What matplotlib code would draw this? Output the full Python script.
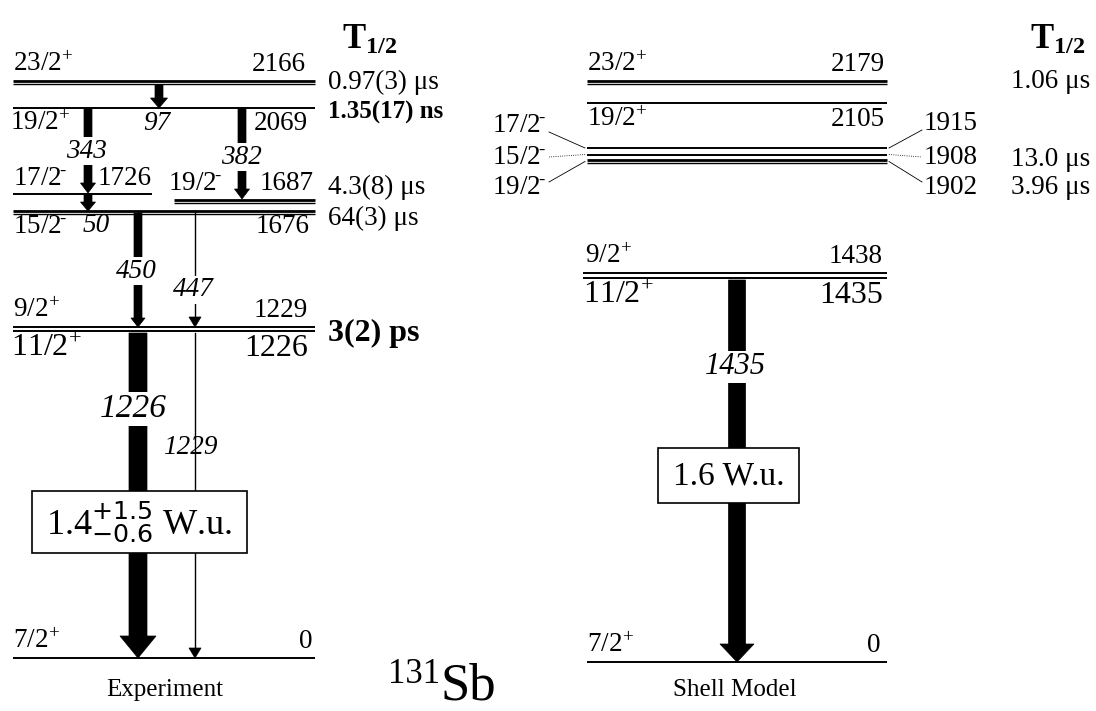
import matplotlib.pyplot as plt
from matplotlib.patches import Polygon, Rectangle

plt.rcParams['font.family'] = 'Liberation Serif'
plt.rcParams['mathtext.fontset'] = 'custom'
plt.rcParams['mathtext.rm'] = 'Liberation Serif'
plt.rcParams['mathtext.it'] = 'Liberation Serif:italic'
plt.rcParams['mathtext.bf'] = 'Liberation Serif:bold'
plt.rcParams['mathtext.sf'] = 'DejaVu Sans'

P = r"$^{\!+}$"
M = r"$^{\!\text{-}}$"

# --- data: experiment ---
exp_spins = ["23/2" + P, "19/2" + P, "17/2" + M, "19/2" + M, "15/2" + M,
             "9/2" + P, "11/2" + P, "7/2" + P]
exp_energies = [2166, 2069, 1726, 1687, 1676, 1229, 1226, 0]
exp_halflives = ["0.97(3) μs", "1.35(17) ns", "", "4.3(8) μs", "64(3) μs",
                 "", "3(2) ps", ""]
exp_gammas = [97, 343, 382, 50, 450, 447, 1226, 1229]
exp_bel = ("1.4", "+1.5", "−0.6")

# --- data: shell model ---
sm_spins = ["23/2" + P, "19/2" + P, "17/2" + M, "15/2" + M, "19/2" + M,
            "9/2" + P, "11/2" + P, "7/2" + P]
sm_energies = [2179, 2105, 1915, 1908, 1902, 1438, 1435, 0]
sm_halflives = ["1.06 μs", "", "", "13.0 μs", "3.96 μs", "", "", ""]
sm_gamma = 1435
sm_bel = "1.6"

# --- layout (pixel space, level scheme is not to scale) ---
exp_y = [81, 108, 194, 199.5, 211, 327, 331, 658]
exp_x = [(13, 315), (13, 315), (13, 152), (174, 315), (13, 315),
         (13, 315), (13, 315), (13, 315)]
exp_double = [True, False, False, True, True, False, False, False]

sm_y = [81, 103, 148, 154.5, 160, 273, 278, 662]
sm_x = (587, 887)
sm_double = [True, False, False, False, True, False, False, False]

fig = plt.figure(figsize=(10.96, 7.11), dpi=100)
ax = fig.add_axes([0, 0, 1, 1])
ax.set_xlim(0, 1096)
ax.set_ylim(711, 0)
ax.axis("off")

FS = 19.5
FS_BIG = 23
FS_HL = 19.5


def level(x0, x1, y, double):
    if double:
        ax.plot([x0, x1], [y, y], color="black", lw=2.0, solid_capstyle="butt")
        ax.plot([x0, x1], [y + 3, y + 3], color="black", lw=1.0, solid_capstyle="butt")
    else:
        ax.plot([x0, x1], [y, y], color="black", lw=1.4, solid_capstyle="butt")


def arrow(x, y0, y1, w, hw, hl, z=2):
    pts = [(x - w / 2, y0), (x + w / 2, y0), (x + w / 2, y1 - hl),
           (x + hw / 2, y1 - hl), (x, y1), (x - hw / 2, y1 - hl),
           (x - w / 2, y1 - hl)]
    ax.add_patch(Polygon(pts, closed=True, fc="black", ec="black", lw=0.5, zorder=z))


def thin_arrow(x, y0, y1, hw=12, hl=10):
    ax.plot([x, x], [y0, y1 - hl], color="black", lw=1.0, zorder=2)
    ax.add_patch(Polygon([(x - hw / 2, y1 - hl), (x + hw / 2, y1 - hl), (x, y1)],
                         closed=True, fc="black", ec="black", lw=0.5, zorder=2))


def glabel(x, y, txt, size=FS, gap=True):
    kw = dict(boxstyle="square,pad=0.05", fc="white", ec="none") if gap else None
    ax.text(x, y, txt, fontsize=size, style="italic", ha="center", va="center",
            bbox=kw, zorder=4)


# ---------------- experiment ----------------
for i in range(len(exp_energies)):
    level(exp_x[i][0], exp_x[i][1], exp_y[i], exp_double[i])

lab_kw = dict(fontsize=FS)
ax.text(13, 77, exp_spins[0], ha="left", va="bottom", **lab_kw)
ax.text(306, 77, str(exp_energies[0]), ha="right", va="bottom", **lab_kw)
ax.text(10, 111, exp_spins[1], ha="left", va="top", **lab_kw)
ax.text(308, 111, str(exp_energies[1]), ha="right", va="top", **lab_kw)
ax.text(13, 191, exp_spins[2], ha="left", va="bottom", **lab_kw)
ax.text(152, 191, str(exp_energies[2]), ha="right", va="bottom", **lab_kw)
ax.text(168, 196, exp_spins[3], ha="left", va="bottom", **lab_kw)
ax.text(314, 196, str(exp_energies[3]), ha="right", va="bottom", **lab_kw)
ax.text(13, 214, exp_spins[4], ha="left", va="top", **lab_kw)
ax.text(310, 214, str(exp_energies[4]), ha="right", va="top", **lab_kw)
ax.text(13, 323, exp_spins[5], ha="left", va="bottom", **lab_kw)
ax.text(308, 323, str(exp_energies[5]), ha="right", va="bottom", **lab_kw)
ax.text(11, 334, exp_spins[6], ha="left", va="top", fontsize=FS_BIG)
ax.text(308, 334, str(exp_energies[6]), ha="right", va="top", fontsize=FS_BIG)
ax.text(13, 654, exp_spins[7], ha="left", va="bottom", **lab_kw)
ax.text(312, 654, str(exp_energies[7]), ha="right", va="bottom", **lab_kw)

# half-lives
ax.text(370, 40, r"T$_{\mathbf{1/2}}$", fontsize=25, fontweight="bold", ha="center", va="center")
hl_y = [82, 112, None, 187, 218, None, 333, None]
hl_size = [FS_HL, 18, None, FS_HL, FS_HL, None, 23, None]
for i, t in enumerate(exp_halflives):
    if t:
        bold = i in (1, 6)
        ax.text(328, hl_y[i], t, fontsize=hl_size[i],
                fontweight="bold" if bold else "normal", ha="left", va="center")

# transitions
arrow(159, 84.5, 108, 8, 17, 10)                 # 97
glabel(157, 124, str(exp_gammas[0]))
arrow(88, 108, 193, 8, 15, 10)                   # 343
glabel(86, 151, str(exp_gammas[1]))
arrow(242, 108, 199, 8, 15, 10)                  # 382
glabel(241, 157, str(exp_gammas[2]))
arrow(88, 194, 211, 8, 15, 9)                    # 50
ax.text(96, 226, str(exp_gammas[3]), fontsize=FS, style="italic", ha="center", va="center")
arrow(138, 213, 327, 8, 14, 9)                   # 450
glabel(136, 271, str(exp_gammas[4]))
thin_arrow(195, 213, 327)                        # 447
glabel(193, 290, str(exp_gammas[5]))
arrow(138, 333, 658, 18, 36, 22)                 # 1226
glabel(133, 409, str(exp_gammas[6]), size=24)
thin_arrow(195, 333, 658)                        # 1229
glabel(190, 448, str(exp_gammas[7]), size=FS, gap=False)

ax.add_patch(Rectangle((32, 491), 215, 62, fc="white", ec="black", lw=1.2, zorder=5))
ax.text(139, 522, exp_bel[0] + r"$^{\mathsf{%s}}_{\mathsf{%s}}$ W.u." % (exp_bel[1], exp_bel[2]),
        fontsize=26, ha="center", va="center", zorder=6)

ax.text(165, 690, "Experiment", fontsize=18, ha="center", va="center")

# ---------------- shell model ----------------
for i in range(len(sm_energies)):
    x0 = 583 if i in (5, 6) else sm_x[0]
    level(x0, sm_x[1], sm_y[i], sm_double[i])

ax.text(587, 77, sm_spins[0], ha="left", va="bottom", **lab_kw)
ax.text(885, 77, str(sm_energies[0]), ha="right", va="bottom", **lab_kw)
ax.text(587, 107, sm_spins[1], ha="left", va="top", **lab_kw)
ax.text(885, 107, str(sm_energies[1]), ha="right", va="top", **lab_kw)

# close-lying negative parity levels with connector lines
left_lab_y = [126, 157, 187]
right_lab_y = [124, 157, 187]
styles = ["-", ":", "-"]
offs = [6, 0, -5]
for k, i in enumerate((2, 3, 4)):
    ly = sm_y[i] + (1.5 if i == 4 else 0)
    ax.text(546, left_lab_y[k], sm_spins[i], ha="right", va="center", **lab_kw)
    ax.plot([549, 585], [left_lab_y[k] + offs[k], ly], color="black", lw=0.6, ls=styles[k])
    ax.text(924, right_lab_y[k], str(sm_energies[i]), ha="left", va="center", **lab_kw)
    ax.plot([889, 922], [ly, right_lab_y[k] + offs[k]], color="black", lw=0.6, ls=styles[k])

ax.text(1058, 40, r"T$_{\mathbf{1/2}}$", fontsize=25, fontweight="bold", ha="center", va="center")
sm_hl_y = [82, None, None, 159, 187, None, None, None]
for i, t in enumerate(sm_halflives):
    if t:
        ax.text(1090, sm_hl_y[i], t, fontsize=FS_HL, ha="right", va="center")

ax.text(585, 269, sm_spins[5], ha="left", va="bottom", **lab_kw)
ax.text(883, 269, str(sm_energies[5]), ha="right", va="bottom", **lab_kw)
ax.text(583, 281, sm_spins[6], ha="left", va="top", fontsize=FS_BIG)
ax.text(883, 281, str(sm_energies[6]), ha="right", va="top", fontsize=FS_BIG)
ax.text(587, 658, sm_spins[7], ha="left", va="bottom", **lab_kw)
ax.text(880, 658, str(sm_energies[7]), ha="right", va="bottom", **lab_kw)

arrow(737, 280, 662, 17, 34, 18)
glabel(735, 367, str(sm_gamma), size=22)
ax.add_patch(Rectangle((658, 448), 141, 55, fc="white", ec="black", lw=1.2, zorder=5))
ax.text(729, 476, sm_bel + " W.u.", fontsize=24, ha="center", va="center", zorder=6)

ax.text(735, 690, "Shell Model", fontsize=18, ha="center", va="center")

# nucleus label
ax.text(440, 683, "131", fontsize=25, ha="right", va="baseline")
ax.text(440, 700, "Sb", fontsize=38, ha="left", va="baseline")

fig.savefig("out.png", dpi=100)
